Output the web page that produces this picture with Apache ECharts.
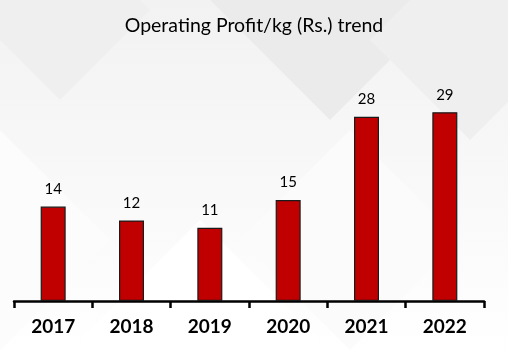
<!DOCTYPE html>
<html><head><meta charset="utf-8">
<script src="https://cdn.jsdelivr.net/npm/echarts@6/dist/echarts.min.js"></script>
<style>html,body{margin:0;padding:0;background:#fff}#c{width:508px;height:356px}</style>
</head><body><div id="c"></div>
<script>
const titleText = 'Operating Profit/kg (Rs.) trend';
const categories = ['2017', '2018', '2019', '2020', '2021', '2022'];
const profitPerKg = [14.3, 12.2, 11.1, 15.3, 27.9, 28.6];

const chart = echarts.init(document.getElementById('c'), null, {renderer: 'canvas'});
const bgDiamonds = [
  {cx: 60, cy: 10, r: 90, c: '#efefef'},
  {cx: 330, cy: 0, r: 120, c: '#ebebeb'},
  {cx: 470, cy: 40, r: 100, c: '#efefef'},
  {cx: 200, cy: 340, r: 120, c: '#ffffff'},
  {cx: 350, cy: 240, r: 110, c: '#fbfbfb'},
  {cx: 0, cy: 240, r: 110, c: '#fcfcfc'}
];
chart.setOption({
  backgroundColor: {type: 'linear', x: 0, y: 0, x2: 0, y2: 1,
    colorStops: [{offset: 0, color: '#f2f2f2'}, {offset: 0.55, color: '#f9f9f9'}, {offset: 1, color: '#ffffff'}]},
  graphic: bgDiamonds.map(d => ({
    type: 'polygon', z: -10, silent: true,
    shape: {points: [[d.cx, d.cy - d.r], [d.cx + d.r, d.cy], [d.cx, d.cy + d.r], [d.cx - d.r, d.cy]]},
    style: {fill: d.c}
  })),
  title: {
    text: titleText, left: 'center', top: 11,
    textStyle: {fontFamily: 'Lato', fontWeight: 'normal', fontSize: 19.5, color: '#000'}
  },
  grid: {left: 14, right: 24, top: 37, bottom: 55},
  xAxis: {
    type: 'category', data: categories,
    axisLine: {lineStyle: {color: '#000', width: 2.5}},
    axisTick: {show: true, length: 7, lineStyle: {color: '#000', width: 2.5}},
    axisLabel: {fontFamily: 'Lato', fontWeight: 'bold', fontSize: 19, color: '#000', margin: 16}
  },
  yAxis: {type: 'value', min: 0, max: 40, show: false, splitLine: {show: false}},
  series: [{
    type: 'bar', data: profitPerKg, barWidth: 25,
    itemStyle: {color: '#C00000', borderColor: '#1a1a1a', borderWidth: 1.2},
    label: {show: true, position: 'top', distance: 10, fontFamily: 'Lato', fontSize: 15, color: '#000',
      formatter: p => Math.round(p.value)}
  }]
});
</script></body></html>
